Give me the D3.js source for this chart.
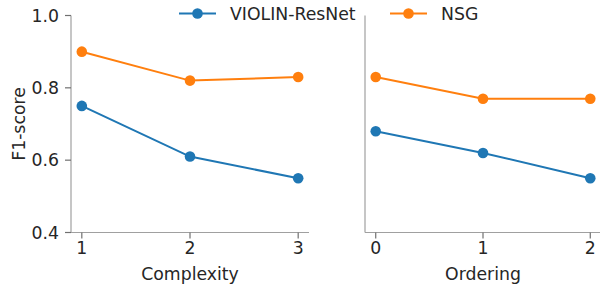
<!DOCTYPE html>
<html>
<head>
<meta charset="utf-8">
<script src="https://cdn.jsdelivr.net/npm/d3@7"></script>
<style>
  body { margin: 0; background: #fff; }
  svg text { font-family: "DejaVu Sans", sans-serif; fill: #262626; }
</style>
</head>
<body>
<svg id="chart" width="600" height="288"></svg>
<script>
// data
var complexity = [1, 2, 3];
var ordering = [0, 1, 2];
var violinComplexity = [0.75, 0.61, 0.55];
var nsgComplexity = [0.90, 0.82, 0.83];
var violinOrdering = [0.68, 0.62, 0.55];
var nsgOrdering = [0.83, 0.77, 0.77];
var yTicks = [0.4, 0.6, 0.8, 1.0];
var seriesNames = ["VIOLIN-ResNet", "NSG"];
var colors = ["#1f77b4", "#ff7f0e"];

var svg = d3.select("#chart");
var yTop = 15.5, yBottom = 232.5;
var fs = 17.3;
var spineColor = "#a0a0a0", tickColor = "#707070";

var y = d3.scaleLinear().domain([0.4, 1.0]).range([yBottom, yTop]);

function drawPanel(xs, series, range, domain, label, showY) {
    var x = d3.scaleLinear().domain(domain).range(range);
    var g = svg.append("g");

    // spines
    g.append("line").attr("x1", range[0]).attr("x2", range[1])
        .attr("y1", yBottom).attr("y2", yBottom)
        .attr("stroke", spineColor).attr("stroke-width", 1.2);
    g.append("line").attr("x1", range[0]).attr("x2", range[0])
        .attr("y1", yTop).attr("y2", yBottom)
        .attr("stroke", spineColor).attr("stroke-width", 1.2);

    // x ticks
    xs.forEach(function (v) {
        g.append("line").attr("x1", x(v)).attr("x2", x(v))
            .attr("y1", yBottom).attr("y2", yBottom + 6)
            .attr("stroke", tickColor).attr("stroke-width", 1.2);
        g.append("text").attr("x", x(v)).attr("y", yBottom + 21)
            .attr("text-anchor", "middle").style("font-size", fs + "px")
            .text(d3.format("d")(v));
    });
    g.append("text").attr("x", (range[0] + range[1]) / 2).attr("y", 280)
        .attr("text-anchor", "middle").style("font-size", fs + "px")
        .text(label);

    if (showY) {
        yTicks.forEach(function (v) {
            g.append("line").attr("x1", range[0] - 6).attr("x2", range[0])
                .attr("y1", y(v)).attr("y2", y(v))
                .attr("stroke", tickColor).attr("stroke-width", 1.2);
            g.append("text").attr("x", range[0] - 12).attr("y", y(v) + 6.3)
                .attr("text-anchor", "end").style("font-size", fs + "px")
                .text(d3.format(".1f")(v));
        });
    }

    var line = d3.line()
        .x(function (d, i) { return x(xs[i]); })
        .y(function (d) { return y(d); });

    series.forEach(function (vals, k) {
        g.append("path").datum(vals)
            .attr("d", line)
            .attr("fill", "none")
            .attr("stroke", colors[k])
            .attr("stroke-width", 2);
        g.selectAll(".pt" + k).data(vals).enter().append("circle")
            .attr("cx", function (d, i) { return x(xs[i]); })
            .attr("cy", function (d) { return y(d); })
            .attr("r", 5.3)
            .attr("fill", colors[k]);
    });
}

drawPanel(complexity, [violinComplexity, nsgComplexity], [71, 309], [0.9, 3.1], "Complexity", true);
drawPanel(ordering, [violinOrdering, nsgOrdering], [365, 601], [-0.1, 2.1], "Ordering", false);

// y label
svg.append("text")
    .attr("transform", "translate(25," + ((yTop + yBottom) / 2) + ") rotate(-90)")
    .attr("text-anchor", "middle").style("font-size", fs + "px")
    .text("F1-score");

// legend
var legendX = [179, 390];
seriesNames.forEach(function (name, k) {
    var lg = svg.append("g").attr("transform", "translate(" + legendX[k] + ",13.5)");
    lg.append("line").attr("x1", 0).attr("x2", 37).attr("y1", 0).attr("y2", 0)
        .attr("stroke", colors[k]).attr("stroke-width", 2);
    lg.append("circle").attr("cx", 18.5).attr("cy", 0).attr("r", 5.3).attr("fill", colors[k]);
    lg.append("text").attr("x", 51).attr("y", 6.3)
        .style("font-size", fs + "px").text(name);
});
</script>
</body>
</html>
